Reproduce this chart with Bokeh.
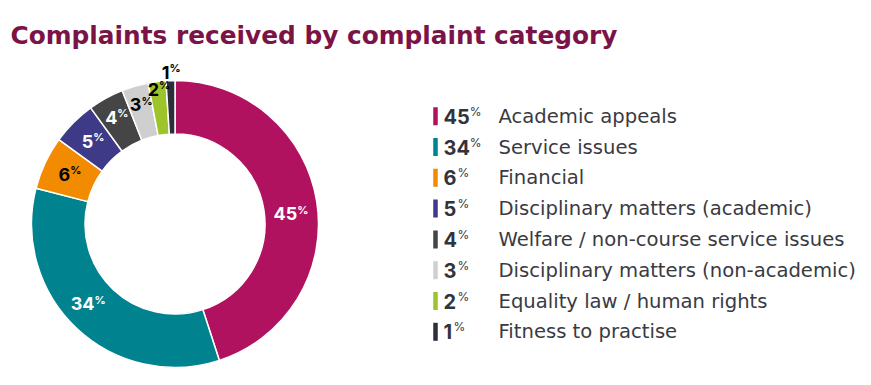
import numpy as np
from bokeh.plotting import figure
from bokeh.models import Range1d, ColumnDataSource
from bokeh.core.properties import value
from bokeh.embed import file_html
from bokeh.resources import INLINE

title = "Complaints received by complaint category"
categories = [
    "Academic appeals",
    "Service issues",
    "Financial",
    "Disciplinary matters (academic)",
    "Welfare / non-course service issues",
    "Disciplinary matters (non-academic)",
    "Equality law / human rights",
    "Fitness to practise",
]
percent = [45, 34, 6, 5, 4, 3, 2, 1]
colors = ["#B0125F", "#00838F", "#F28B00", "#3E3A87", "#454545", "#D0CFCF", "#9DC42A", "#2B2F3B"]
label_colors = ["white", "white", "black", "white", "white", "black", "black", "black"]
# label placement (layout): radius and small angular nudge in degrees
label_radius = [116, 118, 117, 117, 122, 124, 136, 152]
label_nudge = [-4, -4.4, 0, 0, 0, 0, 0, 0]

FONT = value("Inter")
TFONT = value("DejaVu Sans")
W, H = 855, 369
p = figure(width=W, height=H, x_range=Range1d(0, W), y_range=Range1d(385 - H, 385),
           output_backend="svg", toolbar_location=None, min_border=0)
p.axis.visible = False
p.grid.visible = False
p.outline_line_color = None
p.background_fill_color = "white"
p.border_fill_color = "white"


def Y(sy):
    return 385 - sy


def digits_width(s, size):
    return sum((0.42 if ch == "1" else 0.62) * size for ch in s)


# title
p.text(x=[10], y=[Y(35)], text=[title], text_font=TFONT, text_font_style="bold",
       text_font_size=value("24.8px"), text_color="#7B1347", text_baseline="alphabetic", text_align="left")

# donut
cx, cy = 174.5, Y(223.5)
r_in, r_out = 90, 143.5
frac = np.array(percent, dtype=float) / sum(percent)
cum = np.concatenate([[0.0], np.cumsum(frac)])
start = np.pi / 2 - 2 * np.pi * cum[:-1]
end = np.pi / 2 - 2 * np.pi * cum[1:]
src = ColumnDataSource(dict(start=end, end=start, color=colors))
p.annular_wedge(x=cx, y=cy, inner_radius=r_in, outer_radius=r_out, start_angle="start", end_angle="end",
                direction="anticlock", fill_color="color", line_color="white", line_width=1.5, source=src)

mid = (start + end) / 2 + np.radians(label_nudge)
lx = cx + np.array(label_radius) * np.cos(mid)
ly = cy + np.array(label_radius) * np.sin(mid)
nums = [str(v) for v in percent]
numw = np.array([digits_width(n, 18) for n in nums])
pctw = 9.0
left = lx - (numw + pctw) / 2
p.text(x=list(left + numw), y=list(ly), text=nums, text_font=FONT, text_font_style="bold",
       text_font_size=value("18px"), text_color=label_colors, text_align="right", text_baseline="middle")
p.text(x=list(left + numw), y=list(ly + 4), text=["%"] * len(nums), text_font=FONT, text_font_style="bold",
       text_font_size=value("11px"), text_color=label_colors, text_align="left", text_baseline="middle")

# legend
row_y = np.array([Y(115.7 + i * 30.8) for i in range(len(categories))])
p.rect(x=[435] * len(categories), y=list(row_y), width=4.5, height=18, fill_color=colors, line_color=None)
p.text(x=[443] * len(categories), y=list(row_y), text=nums, text_font=FONT, text_font_style="bold",
       text_font_size=value("20px"), text_color="#33333B", text_align="left", text_baseline="middle")
pct_x = [443 + digits_width(n, 20) + 1.5 for n in nums]
p.text(x=pct_x, y=list(row_y + 5), text=["%"] * len(nums), text_font=FONT,
       text_font_size=value("12px"), text_color="#33333B", text_align="left", text_baseline="middle")
p.text(x=[498] * len(categories), y=list(row_y), text=categories, text_font=TFONT,
       text_font_size=value("19.6px"), text_color="#3A3A42", text_align="left", text_baseline="middle")

open("out.html", "w").write(file_html(p, INLINE))
